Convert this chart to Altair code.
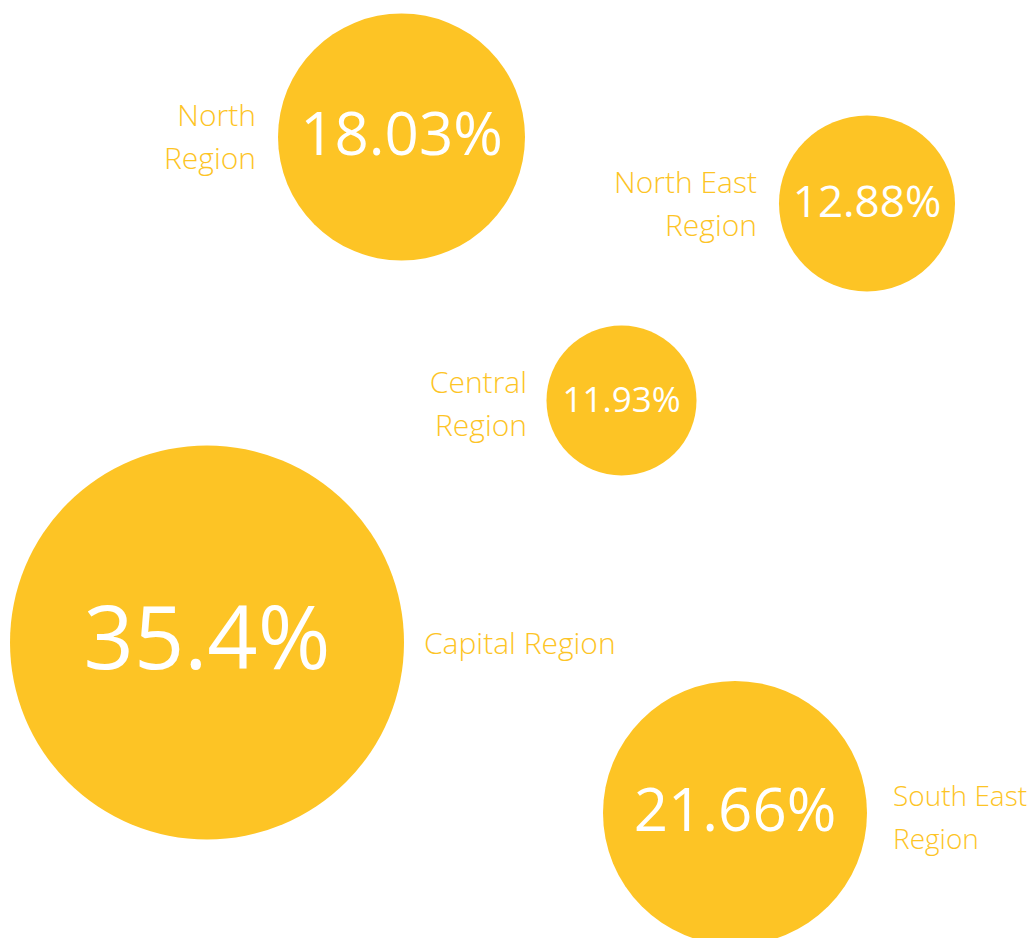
import altair as alt
import pandas as pd

# ---- data ----
regions = ["North Region", "North East Region", "Central Region", "Capital Region", "South East Region"]
label_text = ["North\nRegion", "North East\nRegion", "Central\nRegion", "Capital Region", "South East\nRegion"]
shares = [18.03, 12.88, 11.93, 35.4, 21.66]

# ---- layout of the packed bubbles (plot pixel units) ----
bubble_x = [393.5, 859, 613.5, 199, 727]
bubble_y = [129, 195.5, 392.5, 634.5, 805]
label_x = [248, 749, 519, 416, 885]
label_y = [109, 175.5, 376, 637, 790]
label_side = ["left", "left", "left", "right", "edge"]

W, H = 1020, 930
YELLOW = "#FDC425"
FONT = "Open Sans"

df = pd.DataFrame({
    "region": regions, "label": label_text, "share": shares,
    "bx": bubble_x, "by": bubble_y, "lx": label_x, "ly": label_y, "side": label_side,
})

xs = alt.Scale(domain=[0, W], nice=False, zero=False)
ys = alt.Scale(domain=[0, H], nice=False, zero=False, reverse=True)

dom = sorted(shares)
# symbol size = (diameter)^2 in Vega
area_scale = alt.Scale(type="linear", domain=dom, range=[22500, 30976, 61009, 69696, 155236], zero=False, nice=False)
font_scale = alt.Scale(type="linear", domain=dom, range=[35, 44, 60, 60, 88], zero=False, nice=False)

base = alt.Chart(df)
X = alt.X("bx:Q", scale=xs, axis=None)
Y = alt.Y("by:Q", scale=ys, axis=None)
LX = alt.X("lx:Q", scale=xs, axis=None)
LY = alt.Y("ly:Q", scale=ys, axis=None)

bubbles = base.mark_circle(opacity=1, color=YELLOW, strokeWidth=0).encode(
    x=X, y=Y,
    size=alt.Size("share:Q", scale=area_scale, legend=None),
)

values = base.transform_calculate(
    pct="format(datum.share, '.2~f') + '%'"
).mark_text(color="white", font=FONT, fontWeight=400, align="center", baseline="middle").encode(
    x=X, y=Y,
    text="pct:N",
    size=alt.Size("share:Q", scale=font_scale, legend=None),
)

label_style = dict(color=YELLOW, font=FONT, fontWeight=300, baseline="middle", lineBreak="\n", lineHeight=43)

left_labels = base.transform_filter("datum.side == 'left'").mark_text(
    align="right", fontSize=30, **label_style
).encode(x=LX, y=LY, text="label:N")

right_labels = base.transform_filter("datum.side == 'right'").mark_text(
    align="left", fontSize=30, **label_style
).encode(x=LX, y=LY, text="label:N")

edge_labels = base.transform_filter("datum.side == 'edge'").mark_text(
    align="left", fontSize=28, **label_style
).encode(x=LX, y=LY, text="label:N")

chart = alt.layer(bubbles, values, left_labels, right_labels, edge_labels).resolve_scale(
    size="independent"
).properties(
    width=W, height=H, padding=0, autosize=alt.AutoSizeParams(type="none"),
    background="white",
).configure_view(stroke=None)

chart.save("out.html", embed_options={"renderer": "svg", "actions": False})
